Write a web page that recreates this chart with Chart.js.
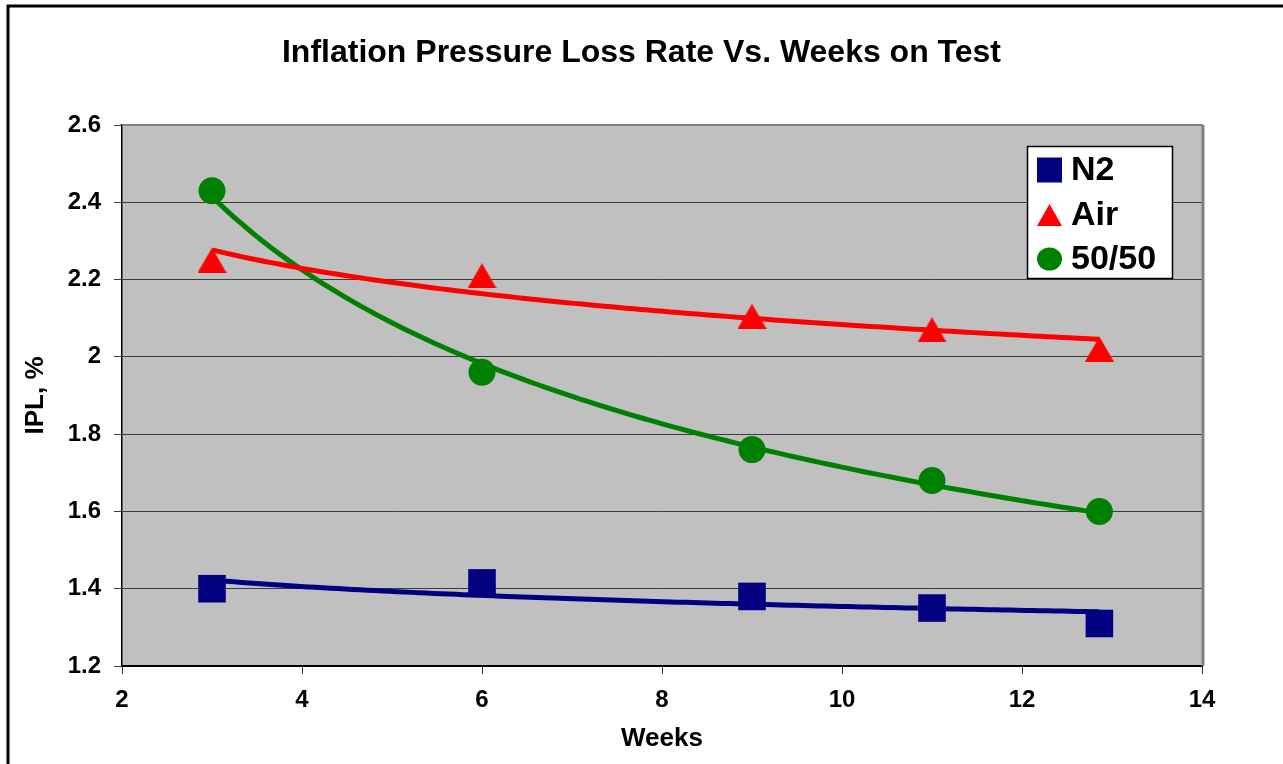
<!DOCTYPE html>
<html>
<head>
<meta charset="utf-8">
<title>Inflation Pressure Loss Rate Vs. Weeks on Test</title>
<script src="https://cdn.jsdelivr.net/npm/chart.js@4.4.0/dist/chart.umd.min.js"></script>
<style>
  html, body { margin: 0; padding: 0; background: #fff; }
  #wrap { position: relative; width: 1283px; height: 764px; }
</style>
</head>
<body>
<div id="wrap"><canvas id="iplChart"></canvas></div>
<script>
// ----- data -----
const weeks  = [3, 6, 9, 11, 12.86];
const n2Ipl  = [1.40, 1.415, 1.38, 1.35, 1.31];
const airIpl = [2.25, 2.21, 2.105, 2.07, 2.02];
const mixIpl = [2.43, 1.96, 1.76, 1.68, 1.60];

const seriesNames  = ['N2', 'Air', '50/50'];
const seriesColors = ['#000080', '#ff0000', '#008000'];

const xTickValues = [2, 4, 6, 8, 10, 12, 14];
const yTickValues = [1.2, 1.4, 1.6, 1.8, 2.0, 2.2, 2.4, 2.6];
const yTickLabels = ['1.2', '1.4', '1.6', '1.8', '2', '2.2', '2.4', '2.6'];

const FONT = "'Liberation Sans', Arial, sans-serif";

// power trendline (y = c * x^b), least squares on ln/ln like Excel does
function powerFit(xs, ys) {
  const lx = xs.map(Math.log), ly = ys.map(Math.log);
  const mx = lx.reduce((s, v) => s + v, 0) / lx.length;
  const my = ly.reduce((s, v) => s + v, 0) / ly.length;
  let sxy = 0, sxx = 0;
  lx.forEach((v, i) => { sxy += (v - mx) * (ly[i] - my); sxx += (v - mx) * (v - mx); });
  const b = sxy / sxx;
  const c = Math.exp(my - b * mx);
  return x => c * Math.pow(x, b);
}

function trendPoints(xs, ys) {
  const f = powerFit(xs, ys);
  const x0 = xs[0], x1 = xs[xs.length - 1];
  const out = [];
  for (let i = 0; i <= 120; i++) {
    const x = x0 + (x1 - x0) * i / 120;
    out.push({ x, y: f(x) });
  }
  return out;
}

// triangle marker drawn centred on its box (Excel style)
function triangleMarker(w, h, color) {
  const c = document.createElement('canvas');
  c.width = w; c.height = h;
  const g = c.getContext('2d');
  g.fillStyle = color;
  g.beginPath();
  g.moveTo(w / 2, 0); g.lineTo(w, h); g.lineTo(0, h);
  g.closePath();
  g.fill();
  return c;
}

const toXY = ys => weeks.map((x, i) => ({ x, y: ys[i] }));
const allSeries = [n2Ipl, airIpl, mixIpl];
const markerStyles = ['rect', triangleMarker(29, 25, seriesColors[1]), 'circle'];
const markerRadius = [19.5, 15, 13.5];

const datasets = [];
allSeries.forEach((ys, i) => {
  datasets.push({
    label: seriesNames[i],
    data: toXY(ys),
    type: 'scatter',
    showLine: false,
    pointStyle: markerStyles[i],
    pointRadius: markerRadius[i],
    pointHoverRadius: markerRadius[i],
    backgroundColor: seriesColors[i],
    borderColor: seriesColors[i],
    borderWidth: 0,
    order: 0,
  });
});
allSeries.forEach((ys, i) => {
  datasets.push({
    label: seriesNames[i] + ' trend',
    data: trendPoints(weeks, ys),
    type: 'line',
    borderColor: seriesColors[i],
    borderWidth: 5,
    pointRadius: 0,
    fill: false,
    tension: 0,
    order: 1,
  });
});

// plot background, borders and the boxed legend
const framePlugin = {
  id: 'frame',
  beforeDraw(chart) {
    const { ctx, chartArea: a } = chart;
    ctx.save();
    ctx.fillStyle = '#c0c0c0';
    ctx.fillRect(a.left, a.top, a.right - a.left, a.bottom - a.top);
    ctx.strokeStyle = '#000';
    ctx.lineWidth = 3;
    ctx.beginPath();
    ctx.moveTo(8, chart.height);
    ctx.lineTo(8, 6);
    ctx.lineTo(chart.width, 6);
    ctx.stroke();
    ctx.restore();
  },
  beforeDatasetsDraw(chart) {
    const { ctx, chartArea: a } = chart;
    ctx.save();
    ctx.strokeStyle = '#808080';
    ctx.lineWidth = 2;
    ctx.beginPath();
    ctx.moveTo(a.left, a.top);
    ctx.lineTo(a.right + 1, a.top);
    ctx.stroke();
    ctx.lineWidth = 3;
    ctx.beginPath();
    ctx.moveTo(a.right + 1, a.top);
    ctx.lineTo(a.right + 1, a.bottom);
    ctx.stroke();
    ctx.restore();
  },
  afterDatasetsDraw(chart) {
    const { ctx } = chart;
    const bx = 1027.5, by = 146.5, bw = 145, bh = 132;
    ctx.save();
    ctx.fillStyle = '#fff';
    ctx.fillRect(bx, by, bw, bh);
    ctx.strokeStyle = '#000';
    ctx.lineWidth = 1.5;
    ctx.strokeRect(bx, by, bw, bh);
    const rows = [170, 215, 259];
    const mx = 1049.5;
    rows.forEach((ry, i) => {
      ctx.fillStyle = seriesColors[i];
      ctx.beginPath();
      if (i === 0) {
        ctx.rect(mx - 12.5, ry - 12.5, 25, 25);
      } else if (i === 1) {
        ctx.moveTo(mx, ry - 11); ctx.lineTo(mx + 12.5, ry + 11); ctx.lineTo(mx - 12.5, ry + 11);
        ctx.closePath();
      } else {
        ctx.ellipse(mx, ry, 12.5, 11.5, 0, 0, Math.PI * 2);
      }
      ctx.fill();
      ctx.fillStyle = '#000';
      ctx.font = 'bold 34px ' + FONT;
      ctx.textAlign = 'left';
      ctx.textBaseline = 'middle';
      ctx.fillText(seriesNames[i], 1071, ry + 1);
    });
    ctx.restore();
  }
};

new Chart(document.getElementById('iplChart'), {
  type: 'scatter',
  data: { datasets },
  plugins: [framePlugin],
  options: {
    responsive: true,
    maintainAspectRatio: false,
    animation: false,
    layout: { padding: 0 },
    plugins: {
      legend: { display: false },
      tooltip: { enabled: false },
      title: {
        display: true,
        text: 'Inflation Pressure Loss Rate Vs. Weeks on Test',
        color: '#000',
        font: { family: FONT, size: 32, weight: 'bold' },
        padding: { top: 34, bottom: 52.6 },
      },
    },
    scales: {
      x: {
        type: 'linear',
        min: 2, max: 14,
        afterBuildTicks: s => { s.ticks = xTickValues.map(v => ({ value: v })); },
        afterFit: s => { s.height = 98; },
        ticks: { color: '#000', font: { family: FONT, size: 24, weight: 'bold' }, padding: 11.5, maxRotation: 0, autoSkip: false },
        grid: { drawOnChartArea: false, drawTicks: true, tickLength: 8, color: '#333' },
        border: { color: '#000', width: 2 },
        title: { display: true, text: 'Weeks', color: '#000', font: { family: FONT, size: 26, weight: 'bold' }, padding: { top: 0, bottom: 9.5 } },
      },
      y: {
        type: 'linear',
        min: 1.2, max: 2.6,
        afterBuildTicks: s => { s.ticks = yTickValues.map(v => ({ value: v })); },
        afterFit: s => { s.width = 122; },
        ticks: { color: '#000', font: { family: FONT, size: 24, weight: 'bold' }, padding: 13, autoSkip: false, callback: (v, i) => yTickLabels[i] },
        grid: { color: '#3c3c3c', lineWidth: 1, tickLength: 8 },
        border: { color: '#000', width: 1.5 },
        title: { display: true, text: 'IPL, %', color: '#000', font: { family: FONT, size: 26, weight: 'bold' }, padding: { top: 20.5, bottom: 0 } },
      },
      yPad: {
        type: 'linear',
        position: 'right',
        display: true,
        afterFit: s => { s.width = 81; },
        ticks: { display: false },
        grid: { display: false, drawTicks: false },
        border: { display: false },
      },
    },
  },
});
</script>
</body>
</html>
